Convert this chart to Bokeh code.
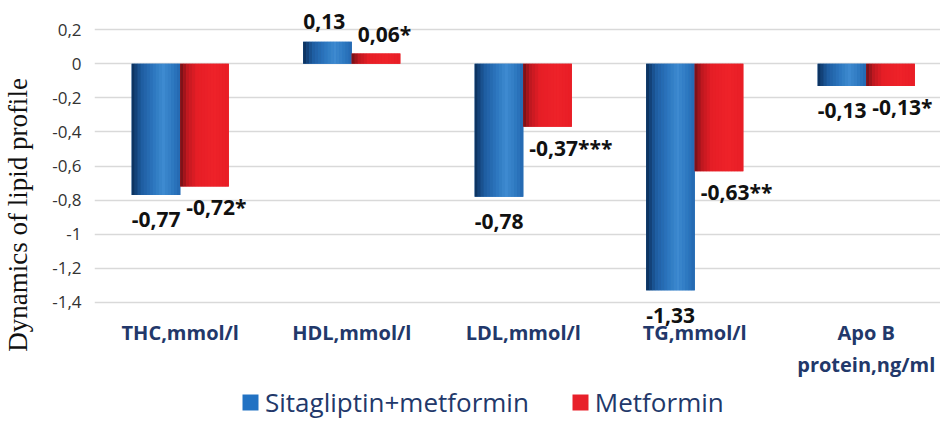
import numpy as np
from bokeh.plotting import figure
from bokeh.models import Range1d, FixedTicker, Legend, LegendItem, ColumnDataSource
from bokeh.core.properties import value
from bokeh.embed import file_html
from bokeh.resources import INLINE

# ---------------- data ----------------
categories = ["THC,mmol/l", "HDL,mmol/l", "LDL,mmol/l", "TG,mmol/l",
              "Apo B\nprotein,ng/ml"]
sitagliptin_metformin = [-0.77, 0.13, -0.78, -1.33, -0.13]
metformin = [-0.72, 0.06, -0.37, -0.63, -0.13]
sita_labels = ["-0,77", "0,13", "-0,78", "-1,33", "-0,13"]
met_labels = ["-0,72*", "0,06*", "-0,37***", "-0,63**", "-0,13*"]
y_ticks = [0.2, 0, -0.2, -0.4, -0.6, -0.8, -1.0, -1.2, -1.4]
y_tick_labels = ["0,2", "0", "-0,2", "-0,4", "-0,6", "-0,8", "-1", "-1,2", "-1,4"]
series_names = ["Sitagliptin+metformin", "Metformin"]
y_title = "Dynamics of lipid profile"

# ---------------- style ----------------
FONT = "Open Sans"
NAVY = "#22386A"
BAR_W = 0.283
N_STRIPES = 16

blue_stops = [(0.0, (10, 44, 86)), (0.2, (30, 92, 160)), (0.45, (44, 118, 190)),
              (0.65, (62, 139, 208)), (0.85, (46, 120, 192)), (1.0, (36, 104, 176))]
red_stops = [(0.0, (110, 16, 22)), (0.15, (190, 24, 32)), (0.35, (230, 30, 38)),
             (0.7, (238, 34, 41)), (1.0, (232, 30, 38))]


def grad(stops, t):
    for (t0, c0), (t1, c1) in zip(stops[:-1], stops[1:]):
        if t0 <= t <= t1:
            f = (t - t0) / (t1 - t0)
            c = [int(round(a + (b - a) * f)) for a, b in zip(c0, c1)]
            return "#%02x%02x%02x" % tuple(c)
    return "#%02x%02x%02x" % stops[-1][1]


xc = np.arange(len(categories)) + 0.5

p = figure(width=940, height=420, output_backend="svg", toolbar_location=None,
           x_range=Range1d(0, 4.933), y_range=Range1d(-2.094, 0.319),
           min_border_left=94, min_border_right=0, min_border_top=9,
           min_border_bottom=0)
p.outline_line_color = None
p.background_fill_color = "white"

legend_items = []
series = [(sitagliptin_metformin, sita_labels, -BAR_W / 2, blue_stops, "#2272C3", 0, 25),
          (metformin, met_labels, BAR_W / 2, red_stops, "#E8202A", 6, 21)]
for (vals, labs, off, stops, base, lx, ly), name in zip(series, series_names):
    vals = np.array(vals)
    r = p.vbar(x=xc + off, top=vals, bottom=0, width=BAR_W,
               fill_color=base, line_color=None)
    legend_items.append(LegendItem(label=name, renderers=[r]))
    sw = BAR_W / N_STRIPES
    for i in range(N_STRIPES):
        t = (i + 0.5) / N_STRIPES
        p.vbar(x=xc + off - BAR_W / 2 + (i + 0.5) * sw, top=vals, bottom=0,
               width=sw * 1.08, fill_color=grad(stops, t), line_color=None)
    src = ColumnDataSource(dict(
        x=xc + off - BAR_W / 2, y=vals, text=labs,
        yo=np.where(vals < 0, ly, -20)))
    p.text(x="x", y="y", text="text", source=src, x_offset=lx, y_offset="yo",
           text_align="left", text_baseline="middle", text_font=value(FONT),
           text_font_size="21px", text_font_style="bold", text_color="#111111")

# axes
p.xgrid.visible = False
p.ygrid.ticker = FixedTicker(ticks=y_ticks)
p.ygrid.grid_line_color = "#D9D9D9"
p.ygrid.grid_line_width = 1.5

p.yaxis.ticker = FixedTicker(ticks=y_ticks)
p.yaxis.major_label_overrides = {t: l for t, l in zip(y_ticks, y_tick_labels)}
p.yaxis.axis_line_color = None
p.yaxis.major_tick_line_color = None
p.yaxis.minor_tick_line_color = None
p.yaxis.major_label_text_font = FONT
p.yaxis.major_label_text_font_size = "17px"
p.yaxis.major_label_text_color = "#333333"
p.yaxis.major_label_standoff = 7
p.yaxis.axis_label = y_title
p.yaxis.axis_label_text_font = "Liberation Serif"
p.yaxis.axis_label_text_font_size = "27px"
p.yaxis.axis_label_text_font_style = "normal"
p.yaxis.axis_label_text_color = "#111111"
p.yaxis.axis_label_standoff = 16

p.xaxis.ticker = FixedTicker(ticks=list(xc))
p.xaxis.major_label_overrides = {float(x): c for x, c in zip(xc, categories)}
p.xaxis.fixed_location = -1.449
p.xaxis.axis_line_color = None
p.xaxis.major_tick_line_color = None
p.xaxis.minor_tick_line_color = None
p.xaxis.major_label_text_font = FONT
p.xaxis.major_label_text_font_size = "20px"
p.xaxis.major_label_text_font_style = "bold"
p.xaxis.major_label_text_color = NAVY
p.xaxis.major_label_standoff = 2

legend = Legend(items=legend_items, orientation="horizontal", location=(146, 0),
                glyph_width=20, glyph_height=20, label_standoff=5, spacing=41,
                label_text_font=FONT, label_text_font_size="26px",
                label_text_color=NAVY, padding=0, margin=0,
                border_line_color=None, background_fill_alpha=0)
p.add_layout(legend, "center")

open("out.html", "w").write(file_html(p, INLINE))
